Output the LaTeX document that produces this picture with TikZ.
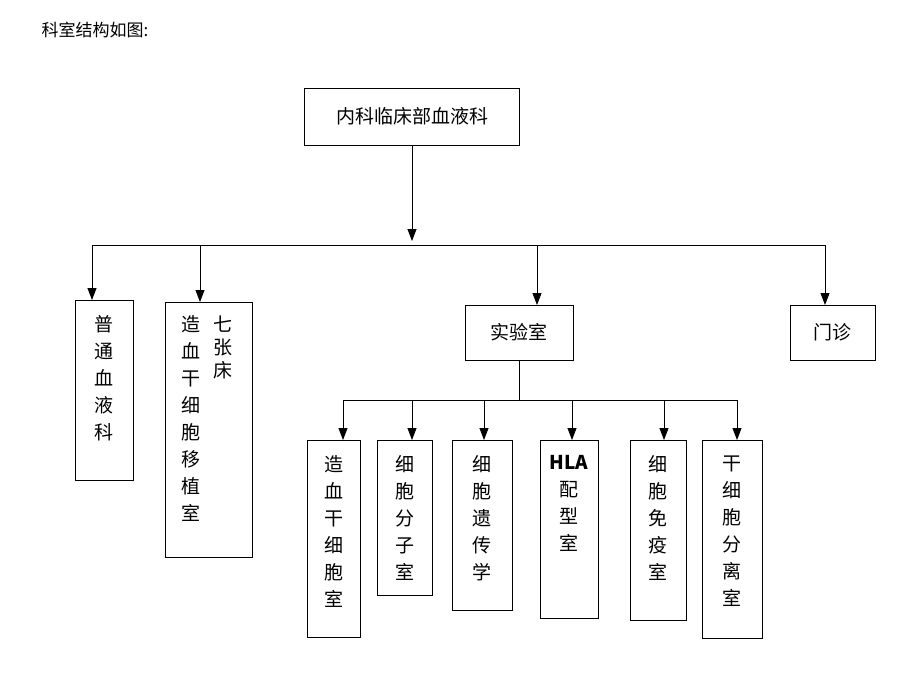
\documentclass[tikz,border=0pt]{standalone}
\usepackage{fontspec}
\newfontfamily\cjk{Noto Sans CJK SC}
\usetikzlibrary{arrows.meta}
\tikzset{
  box/.style={draw,thick,font=\cjk\fontsize{19}{23}\selectfont,align=center,inner sep=0pt},
  arr/.style={thick,-{Triangle[length=12pt,width=9pt]}}
}
\begin{document}
\begin{tikzpicture}[x=1pt,y=1pt]
  \useasboundingbox (0,0) rectangle (920,-690);
  \node[font=\cjk\fontsize{17}{20}\selectfont,anchor=west] (title) at (38,-30) {科室结构如图:};

  % top level
  \node[box,minimum width=215,minimum height=57] (dept) at (412,-116.5) {内科临床部血液科};
  \node[box,minimum width=58,minimum height=180,anchor=north west] (pt) at (75,-300) {};
  \node[font=\cjk\fontsize{19}{27}\selectfont,align=center,anchor=north] (ptt) at (pt.north) [yshift=-12] {普\\通\\血\\液\\科};
  \node[box,minimum width=87,minimum height=255,anchor=north west] (yz) at (165,-302) {};
  \node[font=\cjk\fontsize{19}{27}\selectfont,align=center,anchor=north] (yzt) at (191,-312) {造\\血\\干\\细\\胞\\移\\植\\室};
  \node[font=\cjk\fontsize{19}{23}\selectfont,align=center,anchor=north] (qz) at (223,-312) {七\\张\\床};
  \node[box,minimum width=108,minimum height=55] (sy) at (519,-332.5) {实验室};
  \node[box,minimum width=85,minimum height=55] (mz) at (832.5,-332.5) {门诊};

  \coordinate (c0) at (412,-241);
  \draw[arr] (dept.south) -- (c0);
  \draw[thick] (92,-245) -- (825,-245);
  \draw[arr] (92,-245) -- (92,-300);
  \draw[arr] (200,-245) -- (200,-302);
  \draw[arr] (537,-245) -- (537,-305);
  \draw[arr] (825,-245) -- (825,-305);

  % lab rooms
  \draw[thick] (sy.south) -- (519,-400);
  \draw[thick] (343,-400) -- (737,-400);
  \foreach \l/\r/\b/\ax/\txt in {
      307/360/637/343/{造\\血\\干\\细\\胞\\室},
      377/432/595/412/{细\\胞\\分\\子\\室},
      452/512/610/484/{细\\胞\\遗\\传\\学},
      540/598/618/572/{\textbf{HLA}\\配\\型\\室},
      630/686/620/664/{细\\胞\\免\\疫\\室},
      702/762/638/737/{干\\细\\胞\\分\\离\\室}} {
    \draw[thick] (\l,-440) rectangle (\r,-\b);
    \draw[arr] (\ax,-400) -- (\ax,-440);
    \node[font=\cjk\fontsize{19}{27}\selectfont,align=center,anchor=north] at ({(\l+\r)/2},-452) {\txt};
  }
\end{tikzpicture}
\end{document}
